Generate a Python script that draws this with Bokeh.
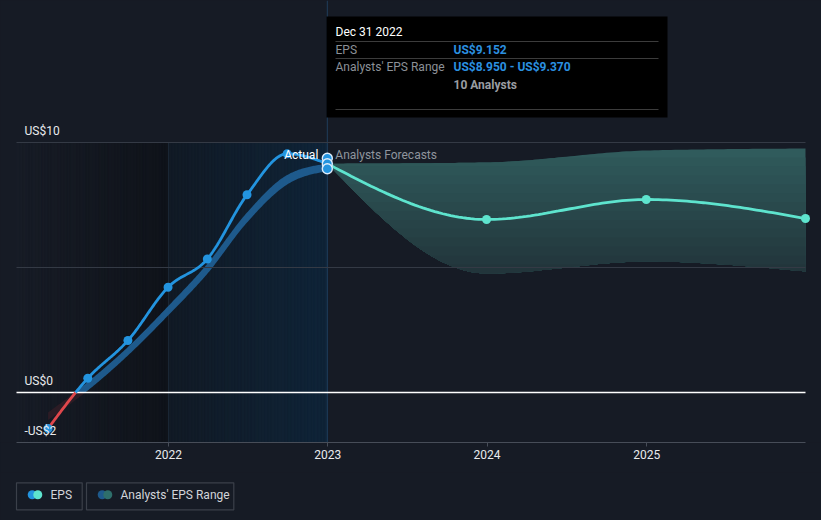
import numpy as np
from bokeh.plotting import figure
from bokeh.models import Range1d, FixedTicker, DatetimeTickFormatter
from bokeh.layouts import column
from bokeh.core.properties import value
from bokeh.embed import file_html
from bokeh.resources import INLINE

# ---------------- data ----------------
eps_dates = ["2021-03-31", "2021-06-30", "2021-09-30", "2021-12-31",
             "2022-03-31", "2022-06-30", "2022-09-30", "2022-12-31"]
eps_values = [-1.44, 0.57, 2.08, 4.21, 5.34, 7.91, 9.55, 9.152]
past_range_low = [-1.10, 0.08, 1.48, 3.08, 4.75, 6.80, 8.32, 8.85]
past_range_high = [-0.80, 0.42, 1.82, 3.45, 5.15, 7.20, 8.70, 9.15]

fc_dates = ["2022-12-31", "2023-12-31", "2024-12-31", "2025-12-31"]
fc_eps = [9.152, 6.92, 7.72, 6.96]
fc_low = [9.152, 4.76, 5.24, 4.84]
fc_high = [9.152, 9.20, 9.68, 9.76]

hover_date = "2022-12-31"
hover_values = [9.37, 9.152, 8.95]

year_ticks = ["2022-01-01", "2023-01-01", "2024-01-01", "2025-01-01"]
grid_values = [10, 5]
y_label_values = [10, 0, -2]
y_label_texts = ["US$10", "US$0", "-US$2"]

tooltip_title = "Dec 31 2022"
tooltip_keys = ["EPS", "Analysts' EPS Range", ""]
tooltip_vals = ["US$9.152", "US$8.950 - US$9.370", ""]
tooltip_note = "10 Analysts"
legend_labels = ["EPS", "Analysts' EPS Range"]
actual_label = "Actual"
forecast_label = "Analysts Forecasts"

# ---------------- styling ----------------
FONT = value("Roboto")
BG = "#161b25"
GRID = "#343a45"
AXIS = "#474d58"
TXT = "#e8eaed"
BLUE = "#2394df"
RED = "#e0474c"
PAST_BAND = "#1e5a8c"
PAST_BAND_NEG = "#2c1c25"
TEAL = "#5ee4ce"
FC_TOP = "#305b5c"
FC_BOTTOM = "#21343a"

DAY_MS = 86400000.0


def ms(d):
    return float(np.datetime64(d, "ms").astype("int64"))


# pixel calibration of the reference layout
X_REF_MS = ms("2022-01-01")
X_REF_PX = 168.0
PX_PER_DAY = 637.0 / 1460.0
Y_ZERO_PX = 392.0
PX_PER_UNIT = 25.0


def px_x(px):
    return X_REF_MS + (px - X_REF_PX) / PX_PER_DAY * DAY_MS


def px_y(py):
    return (Y_ZERO_PX - py) / PX_PER_UNIT


def to_days(dates):
    return np.array([(ms(d) - X_REF_MS) / DAY_MS for d in dates])


def from_days(d):
    return X_REF_MS + np.asarray(d) * DAY_MS


def hex2rgb(h):
    h = h.lstrip("#")
    return tuple(int(h[i:i + 2], 16) for i in (0, 2, 4))


def mix(c0, c1, t):
    a, b = hex2rgb(c0), hex2rgb(c1)
    return "#%02x%02x%02x" % tuple(int(round(a[i] + (b[i] - a[i]) * t)) for i in range(3))


def monotone(x, y, n=40):
    """monotone-x cubic curve (as d3.curveMonotoneX) through the data points"""
    x = np.asarray(x, float)
    y = np.asarray(y, float)
    h = np.diff(x)
    s = np.diff(y) / h
    k = len(x)
    m = np.zeros(k)
    for i in range(1, k - 1):
        p_ = (s[i - 1] * h[i] + s[i] * h[i - 1]) / (h[i - 1] + h[i])
        m[i] = (np.sign(s[i - 1]) + np.sign(s[i])) * min(abs(s[i - 1]), abs(s[i]), 0.5 * abs(p_))
    m[0] = (3 * s[0] - m[1]) / 2
    m[-1] = (3 * s[-1] - m[-2]) / 2
    xs, ys = [], []
    for i in range(k - 1):
        t = np.linspace(0, 1, n, endpoint=(i == k - 2))
        h00 = 2 * t**3 - 3 * t**2 + 1
        h10 = t**3 - 2 * t**2 + t
        h01 = -2 * t**3 + 3 * t**2
        h11 = t**3 - t**2
        xs.append(x[i] + t * h[i])
        ys.append(h00 * y[i] + h10 * h[i] * m[i] + h01 * y[i + 1] + h11 * h[i] * m[i + 1])
    return np.concatenate(xs), np.concatenate(ys)


def split_zero(xs, ys):
    X, Y = [xs[0]], [ys[0]]
    for i in range(1, len(xs)):
        if (ys[i - 1] < 0) != (ys[i] < 0):
            xc = xs[i - 1] + (0 - ys[i - 1]) * (xs[i] - xs[i - 1]) / (ys[i] - ys[i - 1])
            X.append(xc)
            Y.append(0.0)
        X.append(xs[i])
        Y.append(ys[i])
    X = np.array(X)
    Y = np.array(Y)
    pos = np.where(Y >= 0, Y, np.nan)
    neg = np.where(Y <= 0, Y, np.nan)
    return X, pos, neg


# ---------------- main figure ----------------
plot_start = px_x(16)
plot_end = px_x(805)
y_bottom = min(y_label_values)

p = figure(width=821, height=472, x_axis_type="datetime", y_axis_location=None,
           x_range=Range1d(px_x(0), px_x(821)), y_range=Range1d(px_y(442), px_y(0)),
           toolbar_location=None, output_backend="svg",
           min_border_left=0, min_border_right=0, min_border_top=0, min_border_bottom=30,
           background_fill_color=BG, border_fill_color=BG, outline_line_color=None)
p.xgrid.visible = False
p.ygrid.visible = False

xa = p.xaxis[0]
xa.ticker = FixedTicker(ticks=[ms(d) for d in year_ticks])
xa.formatter = DatetimeTickFormatter(years="%Y", months="%Y", days="%Y", hours="%Y")
xa.bounds = (plot_start, plot_end)
xa.axis_line_color = AXIS
xa.axis_line_width = 1.2
xa.major_tick_line_color = AXIS
xa.major_tick_out = 4
xa.major_tick_in = 0
xa.minor_tick_line_color = None
xa.major_label_text_color = TXT
xa.major_label_text_font = "Roboto"
xa.major_label_text_font_size = "12px"
xa.major_label_standoff = 3


# shaded background regions (gradients built from strips)
def strips(x0, x1, c0, c1, n=48):
    edges = np.linspace(x0, x1, n + 1)
    cols = [mix(c0, c1, (i + 0.5) / n) for i in range(n)]
    p.quad(left=edges[:-1], right=edges[1:], bottom=y_bottom, top=max(grid_values),
           fill_color=cols, line_color=cols, line_width=0.6)


strips(plot_start, ms(year_ticks[0]), "#171c26", "#0f131a")
strips(ms(year_ticks[0]), ms(year_ticks[1]), "#111a25", "#0f2438")

# vertical markers
p.segment(x0=[ms(year_ticks[0])], y0=[y_bottom], x1=[ms(year_ticks[0])], y1=[max(grid_values)],
          line_color="#1a2634", line_width=1)
p.segment(x0=[ms(hover_date)], y0=[y_bottom], x1=[ms(hover_date)], y1=[px_y(0)],
          line_color="#1f3d5b", line_width=1)

# past analysts' range band
bx, blo = monotone(to_days(eps_dates), past_range_low)
_, bhi = monotone(to_days(eps_dates), past_range_high)
bxm = from_days(bx)
p.varea(x=bxm, y1=np.minimum(blo, 0), y2=np.minimum(bhi, 0), fill_color=PAST_BAND_NEG)
p.varea(x=bxm, y1=np.maximum(blo, 0), y2=np.maximum(bhi, 0), fill_color=PAST_BAND)

# forecast band with vertical gradient (layered from the bottom)
fx, flo = monotone(to_days(fc_dates), fc_low)
_, fhi = monotone(to_days(fc_dates), fc_high)
fxm = from_days(fx)
p.varea(x=fxm, y1=flo, y2=fhi, fill_color=FC_TOP)
top_v, bot_v = max(fc_high), min(fc_low)
K = 14
for k in range(1, K + 1):
    thr = top_v - (top_v - bot_v) * k / K
    y2 = np.maximum(np.minimum(fhi, thr), flo)
    p.varea(x=fxm, y1=flo, y2=y2, fill_color=mix(FC_TOP, FC_BOTTOM, (k + 0.5) / K))

# gridlines and zero line
p.segment(x0=[plot_start] * len(grid_values), y0=grid_values,
          x1=[plot_end] * len(grid_values), y1=grid_values, line_color=GRID, line_width=1)
p.segment(x0=[plot_start], y0=[0], x1=[plot_end], y1=[0], line_color="#ffffff", line_width=1.3)

# EPS line (red below zero)
ex, ey = monotone(to_days(eps_dates), eps_values)
X, pos, neg = split_zero(from_days(ex), ey)
p.line(x=X, y=neg, line_color=RED, line_width=2.8)
p.line(x=X, y=pos, line_color=BLUE, line_width=2.8)
p.scatter(x=[ms(d) for d in eps_dates[:-1]], y=eps_values[:-1], size=9,
          fill_color=BLUE, line_color=None)

# forecast line
lx, ly = monotone(to_days(fc_dates), fc_eps)
p.line(x=from_days(lx), y=ly, line_color=TEAL, line_width=2.8)
p.scatter(x=[ms(d) for d in fc_dates[1:]], y=fc_eps[1:], size=9,
          fill_color=TEAL, line_color=None)

# hover markers
p.scatter(x=[ms(hover_date)] * len(hover_values), y=hover_values, size=10,
          fill_color=BLUE, line_color="#dcecfb", line_width=1.4)

# section labels
lab_y = px_y(154)
p.text(x=[ms(hover_date)], y=[lab_y], text=[actual_label], text_align="right",
       text_baseline="middle", x_offset=-9, text_color="#ffffff",
       text_font=FONT, text_font_size="12px")
p.text(x=[ms(hover_date)], y=[lab_y], text=[forecast_label], text_align="left",
       text_baseline="middle", x_offset=8, text_color="#8f959d",
       text_font=FONT, text_font_size="12px")

# y value labels
p.text(x=[plot_start] * len(y_label_values), y=y_label_values, text=y_label_texts,
       x_offset=8, y_offset=-12, text_baseline="alphabetic", text_align="left",
       text_color=TXT, text_font=FONT, text_font_size="12px")

# tooltip box
p.quad(left=[px_x(326)], right=[px_x(667)], top=[px_y(16)], bottom=[px_y(117)],
       fill_color="#000000", line_color=None)
sep_y = [px_y(41), px_y(58), px_y(109)]
p.segment(x0=[px_x(335)] * 3, y0=sep_y, x1=[px_x(658)] * 3, y1=sep_y,
          line_color="#3c3c3c", line_width=1)
p.text(x=[px_x(335)], y=[px_y(31)], text=[tooltip_title], text_baseline="middle",
       text_color="#ffffff", text_font=FONT, text_font_size="12px")
row_y = [px_y(49.5), px_y(66.5), px_y(84)]
p.text(x=[px_x(335)] * 3, y=row_y, text=tooltip_keys, text_baseline="middle",
       text_color="#8c9197", text_font=FONT, text_font_size="12px")
p.text(x=[px_x(453)] * 3, y=row_y, text=tooltip_vals, text_baseline="middle",
       text_color="#2b90e0", text_font=FONT, text_font_size="12px", text_font_style="bold")
p.text(x=[px_x(453)], y=[row_y[2]], text=[tooltip_note], text_baseline="middle",
       text_color="#9a9da2", text_font=FONT, text_font_size="12px", text_font_style="bold")

# ---------------- legend strip ----------------
leg = figure(width=821, height=48, x_range=Range1d(0, 821), y_range=Range1d(48, 0),
             toolbar_location=None, output_backend="svg",
             min_border_left=0, min_border_right=0, min_border_top=0, min_border_bottom=0,
             background_fill_color=BG, border_fill_color=BG, outline_line_color=None)
leg.axis.visible = False
leg.grid.visible = False
leg.quad(left=[16, 86], right=[81.7, 233.3], top=[10.3, 10.3], bottom=[37.3, 37.3],
         fill_color=None, line_color="#3b404a", line_width=1.2)
leg.scatter(x=[31.7, 101.7], y=[22.3, 22.3], size=9, fill_color=[BLUE, PAST_BAND], line_color=None)
leg.scatter(x=[37.3, 107.3], y=[22.3, 22.3], size=9, fill_color=[TEAL, "#2e6f6b"], line_color=None)
leg.text(x=[50, 120], y=[22.6, 22.6], text=legend_labels, text_baseline="middle",
         text_color="#d2d5da", text_font=FONT, text_font_size="12px")

layout = column(p, leg, spacing=0, styles={"background-color": BG})
open("out.html", "w").write(file_html(layout, INLINE))
